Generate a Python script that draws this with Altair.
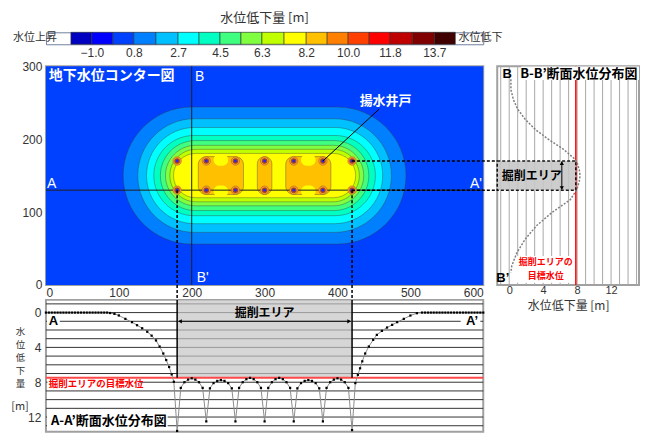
import altair as alt
import pandas as pd

JP = "Noto Sans CJK JP"
NUM = "Liberation Sans"

# ---------------- colour classes of the drawdown map (m) ----------------
BIN_EDGES = [-1.9, -1.0, -0.1, 0.8, 1.75, 2.7, 3.6, 4.5, 5.4, 6.3, 7.25,
             8.2, 9.1, 10.0, 10.9, 11.8, 12.75, 13.7, 14.6]
BIN_COLORS = ["#0000C0", "#0000FF", "#0040FF", "#0080FF", "#00C0FF", "#00FFFF",
              "#00FFC0", "#40FF80", "#80FF40", "#C0FF00", "#FFFF00", "#FFC000",
              "#FF8000", "#FF4000", "#FF0000", "#C00000", "#800000", "#400000"]
BAR_TICKS = [-1.0, 0.8, 2.7, 4.5, 6.3, 8.2, 10.0, 11.8, 13.7]
BAR_TITLE = "水位低下量 [m]"
BAR_SIDE = ["水位上昇", "水位低下"]
BAR_SIDE_AT = [-2.5, 14.74]

# ---------------- contour map (plan view, m) ----------------
MAP_X_TICKS = [0, 100, 200, 300, 400, 500, 600]
MAP_Y_TICKS = [0, 100, 200, 300]
BACKGROUND_BIN = 2
BAND_BIN = [3, 4, 5, 6, 7, 8, 9, 10]
BAND_X0 = [106, 126, 138, 148, 157, 164, 170, 175]
BAND_X1 = [494, 474, 462, 452, 443, 436, 430, 425]
BAND_Y0 = [56, 72, 84, 95, 102, 108.5, 114, 119.6]
BAND_Y1 = [244, 228, 216, 205, 198, 191.5, 186, 180.4]
CORE_BIN = 11
CORE_X0 = [209, 290, 329]
CORE_X1 = [271, 310, 391]
CORE_Y0 = [124, 124, 124]
CORE_Y1 = [176, 176, 176]
NOTCH_X0 = [230, 230, 350, 350]
NOTCH_X1 = [250, 250, 370, 370]
NOTCH_Y0 = [163.5, 120.5, 163.5, 120.5]
NOTCH_Y1 = [179.5, 136.5, 179.5, 136.5]
WELL_X = [180, 220, 260, 300, 340, 380, 420]
WELL_Y = [130, 170]
SECTION_A_Y = 130
SECTION_B_X = 200
EXCAV_X = [180, 420]
EXCAV_Y = [130, 170]
LEADER_FROM = [457, 241]
LEADER_TO = [380, 170]
MAP_TITLE = ["地下水位コンター図", "揚水井戸"]
MAP_TITLE_X = [4, 466]
MAP_TITLE_Y = [286, 252]
MAP_LETTER = ["B", "B'", "A", "A'"]
MAP_LETTER_X = [211, 215, 8, 590]
MAP_LETTER_Y = [285, 10, 138, 138]

# ---------------- A-A' section (along y = 130) ----------------
A_TICKS = [0, 4, 8, 12]
A_GRID = [-1, 0, 1, 2, 3, 4, 5, 6, 7, 8, 9, 10, 11, 12, 13]
TARGET_A = 7.5
A_TITLE = ["水", "位", "低", "下", "量"]
A_UNIT = "[m]"
AA_X = [0, 4, 8, 12, 16, 20, 24, 28, 32, 36, 40, 44, 48, 52, 56, 60, 64, 68, 72, 76, 80, 84,
        88, 94, 100, 109, 118, 125, 132, 139, 145, 151, 156, 161, 165, 169, 172.5, 175.5,
        180, 185, 190, 195, 200, 205, 210, 215,
        220, 225, 230, 235, 240, 245, 250, 255,
        260, 265, 270, 275, 280, 285, 290, 295,
        300, 305, 310, 315, 320, 325, 330, 335,
        340, 345, 350, 355, 360, 365, 370, 375,
        380, 385, 390, 395, 400, 405, 410, 415,
        420, 424.5, 428, 431, 434, 438, 443, 449, 454, 461, 468, 475, 482, 491, 500, 509, 516,
        520, 524, 528, 532, 536, 540, 544, 548, 552, 556, 560, 564, 568, 572, 576, 580, 584,
        588, 592, 596, 600]
AA_D = [0, 0, 0, 0, 0, 0, 0, 0, 0, 0, 0, 0, 0, 0, 0, 0, 0, 0, 0, 0, 0, 0,
        0.05, 0.15, 0.33, 0.72, 1.1, 1.45, 1.8, 2.2, 2.65, 3.2, 3.9, 4.7, 5.45, 6.25, 7.1, 7.95,
        13.6, 8.65, 8.0, 7.7, 7.55, 7.7, 8.0, 8.65,
        12.5, 8.7, 8.1, 7.85, 7.75, 7.85, 8.1, 8.7,
        12.5, 8.65, 8.0, 7.65, 7.5, 7.65, 8.0, 8.65,
        12.5, 8.65, 8.0, 7.65, 7.5, 7.65, 8.0, 8.65,
        12.5, 8.7, 8.1, 7.85, 7.75, 7.85, 8.1, 8.7,
        12.5, 8.65, 8.0, 7.7, 7.55, 7.7, 8.0, 8.65,
        13.5, 8.1, 7.15, 6.4, 5.6, 4.7, 3.9, 3.13, 2.56, 2.1, 1.72, 1.41, 1.1, 0.72, 0.34, 0.07, 0.0,
        0, 0, 0, 0, 0, 0, 0, 0, 0, 0, 0, 0, 0, 0, 0, 0, 0,
        0, 0, 0, 0]

# ---------------- B-B' section (along x = 200) ----------------
B_TICKS = [0, 4, 8, 12]
B_GRID = [-1, 0, 1, 2, 3, 4, 5, 6, 7, 8, 9, 10, 11, 12, 13, 14, 15]
TARGET_B = 7.85
BB_Y = [282, 268, 254, 241, 227, 213, 200, 186, 174, 168, 158, 150, 142, 132, 126, 117, 99, 81, 63, 44, 26, 17]
BB_D = [0.2, 0.2, 0.5, 1.0, 1.9, 3.1, 4.6, 6.4, 7.6, 8.0, 8.25, 8.35, 8.25, 8.0, 7.7, 7.2, 5.0, 3.2, 1.9, 0.9, 0.3, 0.2]

# ====================================================================
W_MAP, H_MAP, W_SIDE, H_BOT, H_BAR = 438, 219, 142, 132, 12
NB = len(BIN_COLORS)
COLOR = alt.Color("bin:O", scale=alt.Scale(domain=list(range(NB)), range=BIN_COLORS), legend=None)
OUTLINE = dict(stroke="#3a3a3a", strokeWidth=0.7, strokeOpacity=0.55)

# ---------- colour bar ----------
XBAR = alt.Scale(domain=[-2.971, 15.8], nice=False, zero=False)
bar_axis = alt.Axis(values=BAR_TICKS, format=".1f", title=None, labelPadding=3, labelFontSize=12)
bar_df = pd.DataFrame({"lo": BIN_EDGES[:-1], "hi": BIN_EDGES[1:], "bin": list(range(NB))})
bar = alt.Chart(bar_df).mark_rect(stroke="#303030", strokeWidth=0.6).encode(
    x=alt.X("lo:Q", scale=XBAR, axis=bar_axis), x2=alt.X2("hi"), color=COLOR)
side_df = pd.DataFrame({"v": BAR_SIDE_AT, "t": BAR_SIDE})
side_l = alt.Chart(side_df.iloc[[0]]).mark_text(font=JP, fontSize=11, align="right", baseline="middle", color="#333").encode(
    x=alt.X("v:Q", scale=XBAR, axis=bar_axis), y=alt.value(6), text="t:N")
side_r = alt.Chart(side_df.iloc[[1]]).mark_text(font=JP, fontSize=11, align="left", baseline="middle", color="#333").encode(
    x=alt.X("v:Q", scale=XBAR, axis=bar_axis), y=alt.value(6), text="t:N")
colorbar = alt.layer(bar, side_l, side_r).properties(
    width=W_MAP, height=H_BAR,
    title=alt.TitleParams(BAR_TITLE, font=JP, fontSize=13, fontWeight="normal", color="#333", anchor="middle", offset=7),
    view=alt.ViewBackground(stroke="#7080a0", strokeWidth=1))

spacer = alt.Chart(pd.DataFrame({"a": [0]})).mark_point(opacity=0).encode(
    x=alt.value(0), y=alt.value(0)).properties(width=W_SIDE, height=19, view=alt.ViewBackground(strokeOpacity=0))

# ---------- contour map ----------
XMAP = alt.Scale(domain=[0, 600], nice=False, zero=False)
YMAP = alt.Scale(domain=[0, 300], nice=False, zero=False)
AXMX = alt.Axis(values=MAP_X_TICKS, title=None, labelPadding=3)
AXMY = alt.Axis(values=MAP_Y_TICKS, title=None, labelPadding=4)
def mx(f): return alt.X(f, type="quantitative", scale=XMAP, axis=AXMX)
def my(f): return alt.Y(f, type="quantitative", scale=YMAP, axis=AXMY)

bg = alt.Chart(pd.DataFrame({"x0": [0], "x1": [600], "y0": [0], "y1": [300], "bin": [BACKGROUND_BIN]})).mark_rect().encode(
    x=mx("x0"), x2=alt.X2("x1"), y=my("y0"), y2=alt.Y2("y1"), color=COLOR)
bands = alt.Chart(pd.DataFrame({"x0": BAND_X0, "x1": BAND_X1, "y0": BAND_Y0, "y1": BAND_Y1, "bin": BAND_BIN})).mark_rect(
    cornerRadius=999, **OUTLINE).encode(x=mx("x0"), x2=alt.X2("x1"), y=my("y0"), y2=alt.Y2("y1"), color=COLOR)
cores = alt.Chart(pd.DataFrame({"x0": CORE_X0, "x1": CORE_X1, "y0": CORE_Y0, "y1": CORE_Y1, "bin": [CORE_BIN] * 3})).mark_rect(
    cornerRadius=8, **OUTLINE).encode(x=mx("x0"), x2=alt.X2("x1"), y=my("y0"), y2=alt.Y2("y1"), color=COLOR)
notches = alt.Chart(pd.DataFrame({"x0": NOTCH_X0, "x1": NOTCH_X1, "y0": NOTCH_Y0, "y1": NOTCH_Y1, "bin": [CORE_BIN - 1] * 4})).mark_rect(
    cornerRadius=7).encode(x=mx("x0"), x2=alt.X2("x1"), y=my("y0"), y2=alt.Y2("y1"), color=COLOR)
line_a = alt.Chart(pd.DataFrame({"x0": [0], "x1": [600], "y": [SECTION_A_Y]})).mark_rule(color="#202020", strokeWidth=1).encode(
    x=mx("x0"), x2=alt.X2("x1"), y=my("y"))
line_b = alt.Chart(pd.DataFrame({"x": [SECTION_B_X], "y0": [0], "y1": [300]})).mark_rule(color="#202020", strokeWidth=1).encode(
    x=mx("x"), y=my("y0"), y2=alt.Y2("y1"))
wells_df = pd.DataFrame({"x": WELL_X * 2, "y": [WELL_Y[0]] * 7 + [WELL_Y[1]] * 7})
well_o = alt.Chart(wells_df).mark_circle(size=70, color="#F0A030", opacity=1, stroke="#B86020", strokeWidth=0.6).encode(x=mx("x"), y=my("y"))
well_m = alt.Chart(wells_df).mark_circle(size=30, color="#A84418", opacity=1).encode(x=mx("x"), y=my("y"))
well_i = alt.Chart(wells_df).mark_circle(size=8, color="#2828F0", opacity=1).encode(x=mx("x"), y=my("y"))
leader = alt.Chart(pd.DataFrame({"x": [LEADER_TO[0]], "y": [LEADER_TO[1]], "x1": [LEADER_FROM[0]], "y1": [LEADER_FROM[1]]})).mark_rule(
    color="black", strokeWidth=1).encode(x=mx("x"), y=my("y"), x2=alt.X2("x1"), y2=alt.Y2("y1"))
conn_v = alt.Chart(pd.DataFrame({"x": EXCAV_X, "y": [EXCAV_Y[0]] * 2, "y1": [-21, -21]})).mark_rule(
    clip=False, color="black", strokeWidth=1.5, strokeDash=[3, 2]).encode(x=mx("x"), y=my("y"), y2=alt.Y2("y1"))
conn_h = alt.Chart(pd.DataFrame({"y": EXCAV_Y, "x": [EXCAV_X[1]] * 2, "x1": [620, 620]})).mark_rule(
    clip=False, color="black", strokeWidth=1.5, strokeDash=[3, 2]).encode(x=mx("x"), x2=alt.X2("x1"), y=my("y"))
title_df = pd.DataFrame({"t": MAP_TITLE, "x": MAP_TITLE_X, "y": MAP_TITLE_Y})
map_t1 = alt.Chart(title_df.iloc[[0]]).mark_text(font=JP, fontSize=14, fontWeight="bold", color="white", align="left", baseline="middle").encode(
    x=mx("x"), y=my("y"), text="t:N")
map_t2 = alt.Chart(title_df.iloc[[1]]).mark_text(font=JP, fontSize=13, fontWeight="bold", color="white", align="center", baseline="middle").encode(
    x=mx("x"), y=my("y"), text="t:N")
map_letters = alt.Chart(pd.DataFrame({"t": MAP_LETTER, "x": MAP_LETTER_X, "y": MAP_LETTER_Y})).mark_text(
    font=NUM, fontSize=14, color="white", align="center", baseline="middle").encode(x=mx("x"), y=my("y"), text="t:N")
map_chart = alt.layer(bg, bands, cores, notches, line_a, line_b, well_o, well_m, well_i, leader,
                      conn_v, conn_h, map_t1, map_t2, map_letters).properties(width=W_MAP, height=H_MAP)

# ---------- B-B' section panel ----------
XB = alt.Scale(domain=[-1.41, 15.29], nice=False, zero=False)
AXBX = alt.Axis(values=B_TICKS, title="水位低下量 [m]", labelPadding=0, labelFontSize=11, titlePadding=5, titleFontSize=12)
def bx(f): return alt.X(f, type="quantitative", scale=XB, axis=AXBX)
def by(f): return alt.Y(f, type="quantitative", scale=YMAP, axis=None)

b_grid = alt.Chart(pd.DataFrame({"d": B_GRID})).mark_rule(color="#a8a8a8", strokeWidth=1).encode(x=bx("d"))
b_target = alt.Chart(pd.DataFrame({"d": [TARGET_B]})).mark_rule(color="#FF0000", strokeWidth=1.5).encode(x=bx("d"))
b_box = alt.Chart(pd.DataFrame({"d0": [-1.41], "d1": [TARGET_B], "y0": [EXCAV_Y[0]], "y1": [EXCAV_Y[1]]})).mark_rect(
    fill="#c8c8c8", opacity=0.9, stroke="black", strokeWidth=1.5, strokeDash=[3, 2]).encode(
    x=bx("d0"), x2=alt.X2("d1"), y=by("y0"), y2=alt.Y2("y1"))
b_arrow = alt.Chart(pd.DataFrame({"d": [6.2], "y0": [131], "y1": [169]})).mark_rule(color="black", strokeWidth=1).encode(
    x=bx("d"), y=by("y0"), y2=alt.Y2("y1"))
b_head_u = alt.Chart(pd.DataFrame({"d": [6.2], "y": [167]})).mark_point(shape="triangle-up", filled=True, size=18, color="black", opacity=1).encode(
    x=bx("d"), y=by("y"))
b_head_d = alt.Chart(pd.DataFrame({"d": [6.2], "y": [133]})).mark_point(shape="triangle-down", filled=True, size=18, color="black", opacity=1).encode(
    x=bx("d"), y=by("y"))
b_box_t = alt.Chart(pd.DataFrame({"t": ["掘削エリア"], "d": [2.65], "y": [150]})).mark_text(
    font=JP, fontSize=12, fontWeight="bold", color="black", baseline="middle").encode(x=bx("d"), y=by("y"), text="t:N")
b_prof = alt.Chart(pd.DataFrame({"d": BB_D, "y": BB_Y, "i": list(range(len(BB_Y)))})).mark_line(
    color="#808080", strokeWidth=1.5, strokeDash=[2, 1.5]).encode(x=bx("d"), y=by("y"), order="i:Q")
b_bg = alt.Chart(pd.DataFrame({"d0": [1.4, 0.9], "d1": [15.29, 7.7], "y0": [281, 3], "y1": [299.5, 39.5]})).mark_rect(
    color="white").encode(x=bx("d0"), x2=alt.X2("d1"), y=by("y0"), y2=alt.Y2("y1"))
b_title = alt.Chart(pd.DataFrame({"t": ["B-B’断面水位分布図"], "d": [15.1], "y": [290]})).mark_text(
    font=JP, fontSize=13, fontWeight="bold", color="black", align="right", baseline="middle").encode(x=bx("d"), y=by("y"), text="t:N")
b_letters = alt.Chart(pd.DataFrame({"t": ["B", "B’"], "d": [-0.24, -0.75], "y": [290, 9.6]})).mark_text(
    font=NUM, fontSize=13, fontWeight="bold", color="black", baseline="middle").encode(x=bx("d"), y=by("y"), text="t:N")
b_red = alt.Chart(pd.DataFrame({"t": ["掘削エリアの", "目標水位"], "d": [4.3, 4.3], "y": [30.8, 11.8]})).mark_text(
    font=JP, fontSize=9, fontWeight="bold", color="#FF0000", baseline="middle").encode(x=bx("d"), y=by("y"), text="t:N")
side_chart = alt.layer(b_grid, b_target, b_box, b_arrow, b_head_u, b_head_d, b_box_t, b_prof, b_bg,
                       b_title, b_letters, b_red).properties(width=W_SIDE, height=H_MAP)

# ---------- A-A' section panel ----------
YA = alt.Scale(domain=[-1.46, 13.68], reverse=True, nice=False, zero=False)
AXAY = alt.Axis(values=A_TICKS, labelPadding=5, title=A_TITLE, titleAngle=0,
                titleAlign="center", titleBaseline="top", titleX=-26, titleY=27, titleLineHeight=13, titleFontSize=9.5)
def ax_(f): return alt.X(f, type="quantitative", scale=XMAP, axis=None)
def ay(f): return alt.Y(f, type="quantitative", scale=YA, axis=AXAY)

a_grid = alt.Chart(pd.DataFrame({"d": A_GRID})).mark_rule(color="#333333", strokeWidth=1).encode(y=ay("d"))
a_box = alt.Chart(pd.DataFrame({"x0": [EXCAV_X[0]], "x1": [EXCAV_X[1]], "d0": [-1.46], "d1": [TARGET_A]})).mark_rect(
    color="#c4c4c4", opacity=0.7).encode(x=ax_("x0"), x2=alt.X2("x1"), y=ay("d0"), y2=alt.Y2("d1"))
a_target = alt.Chart(pd.DataFrame({"d": [TARGET_A]})).mark_rule(color="#FF4848", strokeWidth=2).encode(y=ay("d"))
a_edges = alt.Chart(pd.DataFrame({"x": EXCAV_X, "d0": [-1.46, -1.46], "d1": [TARGET_A, TARGET_A]})).mark_rule(
    color="black", strokeWidth=1.5).encode(x=ax_("x"), y=ay("d0"), y2=alt.Y2("d1"))
a_arrow = alt.Chart(pd.DataFrame({"x0": [182], "x1": [418], "d": [1]})).mark_rule(color="black", strokeWidth=1).encode(
    x=ax_("x0"), x2=alt.X2("x1"), y=ay("d"))
a_head_l = alt.Chart(pd.DataFrame({"x": [184], "d": [1]})).mark_point(shape="triangle-left", filled=True, size=18, color="black", opacity=1).encode(
    x=ax_("x"), y=ay("d"))
a_head_r = alt.Chart(pd.DataFrame({"x": [416], "d": [1]})).mark_point(shape="triangle-right", filled=True, size=18, color="black", opacity=1).encode(
    x=ax_("x"), y=ay("d"))
a_df = pd.DataFrame({"x": AA_X, "d": AA_D, "i": list(range(len(AA_X)))})
a_line = alt.Chart(a_df).mark_line(color="#8c8c8c", strokeWidth=1).encode(x=ax_("x"), y=ay("d"), order="i:Q")
a_pts = alt.Chart(a_df).mark_square(size=5, color="black", opacity=1).encode(x=ax_("x"), y=ay("d"))
a_bg = alt.Chart(pd.DataFrame({"x0": [1.5, 569, 2, 1.5], "x1": [19, 596, 128, 167],
                               "d0": [0.35, 0.35, 7.7, 11.6], "d1": [1.65, 1.65, 8.65, 13.35]})).mark_rect(color="white").encode(
    x=ax_("x0"), x2=alt.X2("x1"), y=ay("d0"), y2=alt.Y2("d1"))
a_box_t = alt.Chart(pd.DataFrame({"t": ["掘削エリア"], "x": [300], "d": [0.05]})).mark_text(
    font=JP, fontSize=12, fontWeight="bold", color="black", baseline="middle").encode(x=ax_("x"), y=ay("d"), text="t:N")
a_let_l = alt.Chart(pd.DataFrame({"t": ["A"], "x": [4], "d": [1]})).mark_text(
    font=NUM, fontSize=13, fontWeight="bold", color="black", align="left", baseline="middle").encode(x=ax_("x"), y=ay("d"), text="t:N")
a_let_r = alt.Chart(pd.DataFrame({"t": ["A’"], "x": [593], "d": [1]})).mark_text(
    font=NUM, fontSize=13, fontWeight="bold", color="black", align="right", baseline="middle").encode(x=ax_("x"), y=ay("d"), text="t:N")
a_red = alt.Chart(pd.DataFrame({"t": ["掘削エリアの目標水位"], "x": [4], "d": [8.15]})).mark_text(
    font=JP, fontSize=9.5, fontWeight="bold", color="#FF0000", align="left", baseline="middle").encode(x=ax_("x"), y=ay("d"), text="t:N")
a_title = alt.Chart(pd.DataFrame({"t": ["A-A’断面水位分布図"], "x": [7], "d": [12.45]})).mark_text(
    font=JP, fontSize=13, fontWeight="bold", color="black", align="left", baseline="middle").encode(x=ax_("x"), y=ay("d"), text="t:N")
a_unit = alt.Chart(pd.DataFrame({"t": [A_UNIT], "x": [-35.6], "d": [10.9]})).mark_text(
    font=JP, fontSize=11, color="#333", align="center", baseline="middle").encode(x=ax_("x"), y=ay("d"), text="t:N")
bottom_chart = alt.layer(a_grid, a_box, a_target, a_edges, a_arrow, a_head_l, a_head_r, a_line, a_pts,
                         a_bg, a_box_t, a_let_l, a_let_r, a_red, a_title, a_unit).properties(width=W_MAP, height=H_BOT)

chart = alt.concat(colorbar, spacer, map_chart, side_chart, bottom_chart, columns=2,
                   spacing={"row": 15, "column": 14}, bounds="flush", align="each").properties(
    padding={"left": 2, "top": 3, "right": 0, "bottom": 0}
).configure_view(stroke="#a0a0a0", strokeWidth=2).configure_axis(
    grid=False, ticks=False, domain=False, labelFont=NUM, labelFontSize=12, labelColor="#333",
    titleFont=JP, titleFontSize=13, titleFontWeight="normal", titleColor="#333")

chart.save("out.html", embed_options={"renderer": "svg", "actions": False})
